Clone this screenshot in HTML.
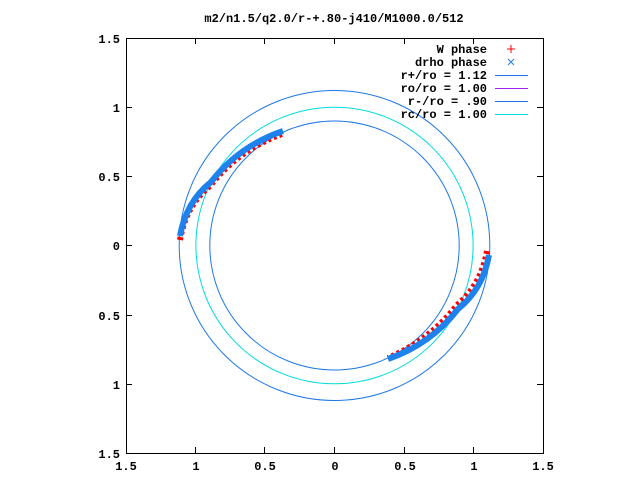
<!DOCTYPE html>
<html><head><style>body{margin:0;background:#fff}svg{display:block}text{font-family:"Liberation Mono",monospace;font-size:12px;font-weight:bold;fill:#000}</style></head>
<body>
<svg width="640" height="480" xmlns="http://www.w3.org/2000/svg">
<text x="334" y="22" text-anchor="middle" font-size="11">m2/n1.5/q2.0/r-+.80-j410/M1000.0/512</text>
<g stroke="#000" stroke-width="1" fill="none">
<rect x="126.5" y="38.5" width="417" height="415"/>
<path d="M126 107.5h6M543 107.5h-6M126 176.5h6M543 176.5h-6M126 245.5h6M543 245.5h-6M126 315.5h6M543 315.5h-6M126 384.5h6M543 384.5h-6M195.5 453v-6M195.5 38v6M264.5 453v-6M264.5 38v6M334.5 453v-6M334.5 38v6M404.5 453v-6M404.5 38v6M473.5 453v-6M473.5 38v6"/>
</g>
<g text-anchor="end">
<text x="120" y="43">1.5</text><text x="120" y="112">1</text><text x="120" y="181">0.5</text><text x="120" y="250">0</text><text x="120" y="320">0.5</text><text x="120" y="389">1</text><text x="120" y="458">1.5</text>
</g>
<g text-anchor="middle">
<text x="126" y="470">1.5</text><text x="196" y="470">1</text><text x="265" y="470">0.5</text><text x="335" y="470">0</text><text x="405" y="470">0.5</text><text x="474" y="470">1</text><text x="543" y="470">1.5</text>
</g>
<g fill="none" stroke-linejoin="round">
<ellipse cx="334.5" cy="245.5" rx="155.3" ry="155" stroke="#1e78e6"/>
<ellipse cx="334.5" cy="245.5" rx="124.7" ry="124.5" stroke="#1e78e6"/>
<ellipse cx="334.5" cy="245.5" rx="138.6" ry="138.3" stroke="#00dcdc"/>
<path d="M180 240 Q186 205 210 186 Q238 150 282 134" stroke="#f00" stroke-width="6" stroke-dasharray="3 3"/>
<path d="M180 236 Q186 202 211 182 Q239 146 283 131" stroke="#1e82ee" stroke-width="6"/>
<path d="M487 251 Q481 285 457 305 Q430 340 388 358" stroke="#f00" stroke-width="6" stroke-dasharray="3 3"/>
<path d="M489 255 Q483 289 458 309 Q431 344 388 359" stroke="#1e82ee" stroke-width="6"/>
</g>
<g text-anchor="end">
<text x="487" y="53">W phase</text><text x="487" y="66">drho phase</text><text x="487" y="79">r+/ro = 1.12</text><text x="487" y="92">ro/ro = 1.00</text><text x="487" y="105">r-/ro = .90</text><text x="487" y="118">rc/ro = 1.00</text>
</g>
<g stroke-width="1">
<path d="M511 45v8M507 49h8" stroke="#f00"/>
<path d="M508 59l6 6M514 59l-6 6" stroke="#1e82ee"/>
<path d="M495 75.5h33" stroke="#1e78e6"/>
<path d="M495 88.5h33" stroke="#a020f0"/>
<path d="M495 101.5h33" stroke="#1e78e6"/>
<path d="M495 114.5h33" stroke="#00dcdc"/>
</g>
</svg>
</body></html>
